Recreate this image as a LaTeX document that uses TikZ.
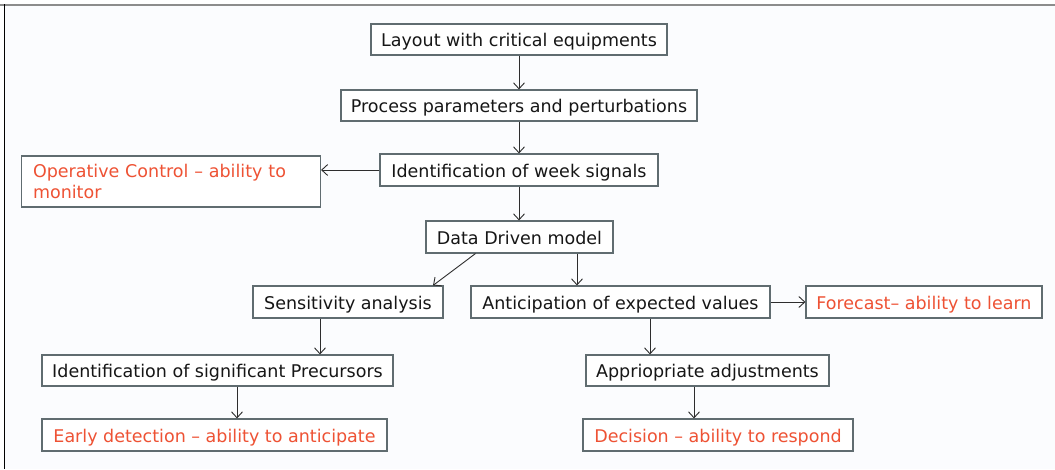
\documentclass[tikz,border=0pt]{standalone}
\usepackage{fontspec}
\setmainfont{DejaVu Sans}
\usetikzlibrary{arrows.meta}
\definecolor{boxline}{RGB}{96,108,112}
\definecolor{txtred}{RGB}{238,82,52}
\definecolor{txtdark}{RGB}{22,22,22}
\definecolor{paper}{RGB}{251,252,254}
\tikzset{
  box/.style={draw=boxline, line width=1.1pt, fill=white, text=txtdark,
    inner sep=0pt, font=\fontsize{17.5}{20.5}\selectfont, anchor=center,
    text height=14pt, text depth=0pt},
  goal/.style={box, text=txtred},
  link/.style={draw=txtdark!90, line width=0.9pt,
    -{Straight Barb[length=6pt,width=11pt,line width=0.9pt]}}
}
\begin{document}
\begin{tikzpicture}[x=1pt, y=-1pt]
\useasboundingbox (0,0) rectangle (1055,469);
\fill[paper] (5,5) rectangle (1055,469);
% frame
\draw[gray!90, line width=2pt] (0,4.5) -- (1055,4.5);
\draw[black, line width=1.6pt] (4.5,4) -- (4.5,469);

% boxes
\node[box, minimum width=296pt, minimum height=31pt] (lay) at (519,39.5) {Layout with critical equipments};
\node[box, minimum width=356pt, minimum height=31pt] (proc) at (519,105.5) {Process parameters and perturbations};
\node[box, minimum width=278pt, minimum height=32pt] (weak) at (519,170) {Identification of week signals};
\node[goal, text height=, text depth=, minimum height=51pt, align=left,
      inner xsep=11.5pt, text width=276pt] (oper) at (171,181.5)
  {Operative Control -- ability to\\monitor};
\node[box, minimum width=187pt, minimum height=32pt] (dd) at (519.5,237) {Data Driven model};
\node[box, minimum width=190pt, minimum height=32pt] (sens) at (348,302) {Sensitivity analysis};
\node[box, minimum width=299pt, minimum height=32pt] (antic) at (620.5,302) {Anticipation of expected values};
\node[goal, minimum width=236pt, minimum height=32pt] (fore) at (924,302) {Forecast-- ability to learn};
\node[box, minimum width=351pt, minimum height=31pt] (prec) at (217.5,370.5) {Identification of significant Precursors};
\node[box, minimum width=243pt, minimum height=31pt] (adj) at (707.5,370.5) {Appriopriate adjustments};
\node[goal, minimum width=345pt, minimum height=32pt] (early) at (214.5,435) {Early detection -- ability to anticipate};
\node[goal, minimum width=270pt, minimum height=32pt] (dec) at (718,435) {Decision -- ability to respond};

% connectors
\draw[link] (lay.south) -- (proc.north);
\draw[link] (proc.south) -- (weak.north);
\draw[link] (weak.west) -- (oper.east |- weak.west);
\draw[link] (weak.south) -- (weak.south |- dd.north);
\draw[link] ([xshift=-44pt]dd.south) -- ([xshift=85pt]sens.north);
\draw[link] ([xshift=57.5pt]dd.south) -- ([xshift=57.5pt]dd.south |- antic.north);
\draw[link] (antic.east) -- (fore.west);
\draw[link] ([xshift=-28pt]sens.south) -- ([xshift=-28pt]sens.south |- prec.north);
\draw[link] ([xshift=29.5pt]antic.south) -- ([xshift=29.5pt]antic.south |- adj.north);
\draw[link] ([xshift=19.5pt]prec.south) -- ([xshift=19.5pt]prec.south |- early.north);
\draw[link] ([xshift=-13.5pt]adj.south) -- ([xshift=-13.5pt]adj.south |- dec.north);
\end{tikzpicture}
\end{document}
